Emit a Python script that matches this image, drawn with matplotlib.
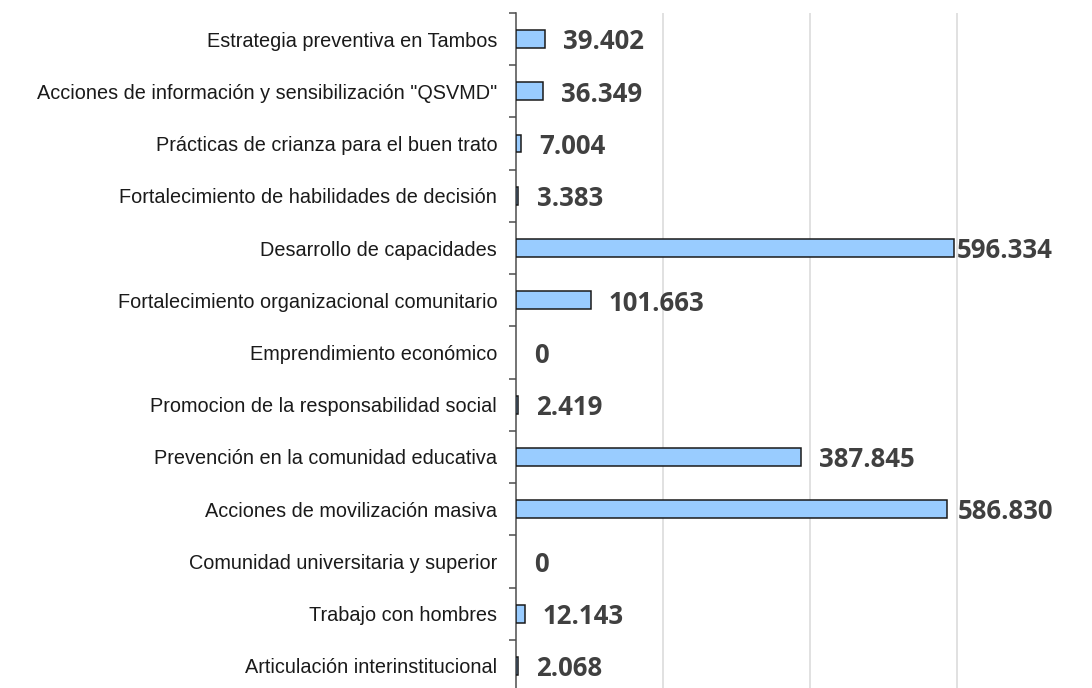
import numpy as np
import matplotlib
matplotlib.use("Agg")
import matplotlib.pyplot as plt

categories = [
    "Estrategia preventiva en Tambos",
    "Acciones de información y sensibilización \"QSVMD\"",
    "Prácticas de crianza para el buen trato",
    "Fortalecimiento de habilidades de decisión",
    "Desarrollo de capacidades",
    "Fortalecimiento organizacional comunitario",
    "Emprendimiento económico",
    "Promocion de la responsabilidad social",
    "Prevención en la comunidad educativa",
    "Acciones de movilización masiva",
    "Comunidad universitaria y superior",
    "Trabajo con hombres",
    "Articulación interinstitucional",
]
values = [39.402, 36.349, 7.004, 3.383, 596.334, 101.663, 0, 2.419,
          387.845, 586.830, 0, 12.143, 2.068]
value_labels = ["39.402", "36.349", "7.004", "3.383", "596.334", "101.663", "0",
                "2.419", "387.845", "586.830", "0", "12.143", "2.068"]

W, H = 1092, 688
fig = plt.figure(figsize=(W / 100, H / 100), dpi=100)
# plot area: left edge at x=516px, category band from y=13px to 692px (clipped)
ax = fig.add_axes([516 / W, (H - 692) / H, (W - 516) / W, (692 - 13) / H])

px_per_200 = 147.0
xmax = (W - 516) / px_per_200 * 200
ax.set_xlim(0, xmax)
n = len(categories)
ax.set_ylim(n - 0.5, -0.5)

y = np.arange(n)
lws = [1.1 if v > 0 else 0 for v in values]
ax.barh(y, values, height=0.34, color="#99CCFF", edgecolor="#1a1a1a",
        linewidth=lws, zorder=3)

ax.set_xticks([200, 400, 600])
ax.xaxis.grid(True, color="#D9D9D9", lw=1.1, zorder=0)
ax.tick_params(axis="x", length=0, labelbottom=False)

ax.set_yticks(y)
ax.set_yticklabels(categories, family=["Liberation Sans Narrow", "Liberation Sans"],
                   fontsize=14.3, color="#1a1a1a")
ax.set_yticks(np.arange(n + 1) - 0.5, minor=True)
ax.tick_params(axis="y", which="major", length=0, pad=13.5)
ax.tick_params(axis="y", which="minor", length=5, width=1.1, color="#4d4d4d",
               direction="out")

for s in ["top", "right", "bottom"]:
    ax.spines[s].set_visible(False)
ax.spines["left"].set_color("#4d4d4d")
ax.spines["left"].set_linewidth(1.1)

# data labels: offset right of bar, pushed back inside the plot area edge
fig.canvas.draw()
renderer = fig.canvas.get_renderer()
limit_px = 1053
to_data = ax.transData.inverted()
for yi, v, lab in zip(y, values, value_labels):
    t = ax.annotate(lab, (v, yi), xytext=(13, -2), textcoords="offset points",
                    ha="left", va="center", fontsize=18.5, fontweight="bold",
                    family="Open Sans", color="#404040", zorder=4)
    bb = t.get_window_extent(renderer)
    if bb.x1 > limit_px:
        t.remove()
        xr = to_data.transform((limit_px, 0))[0]
        ax.annotate(lab, (xr, yi), xytext=(0, -2), textcoords="offset points",
                    ha="right", va="center", fontsize=18.5, fontweight="bold",
                    family="Open Sans", color="#404040", zorder=4)

fig.savefig("out.png", dpi=100)
